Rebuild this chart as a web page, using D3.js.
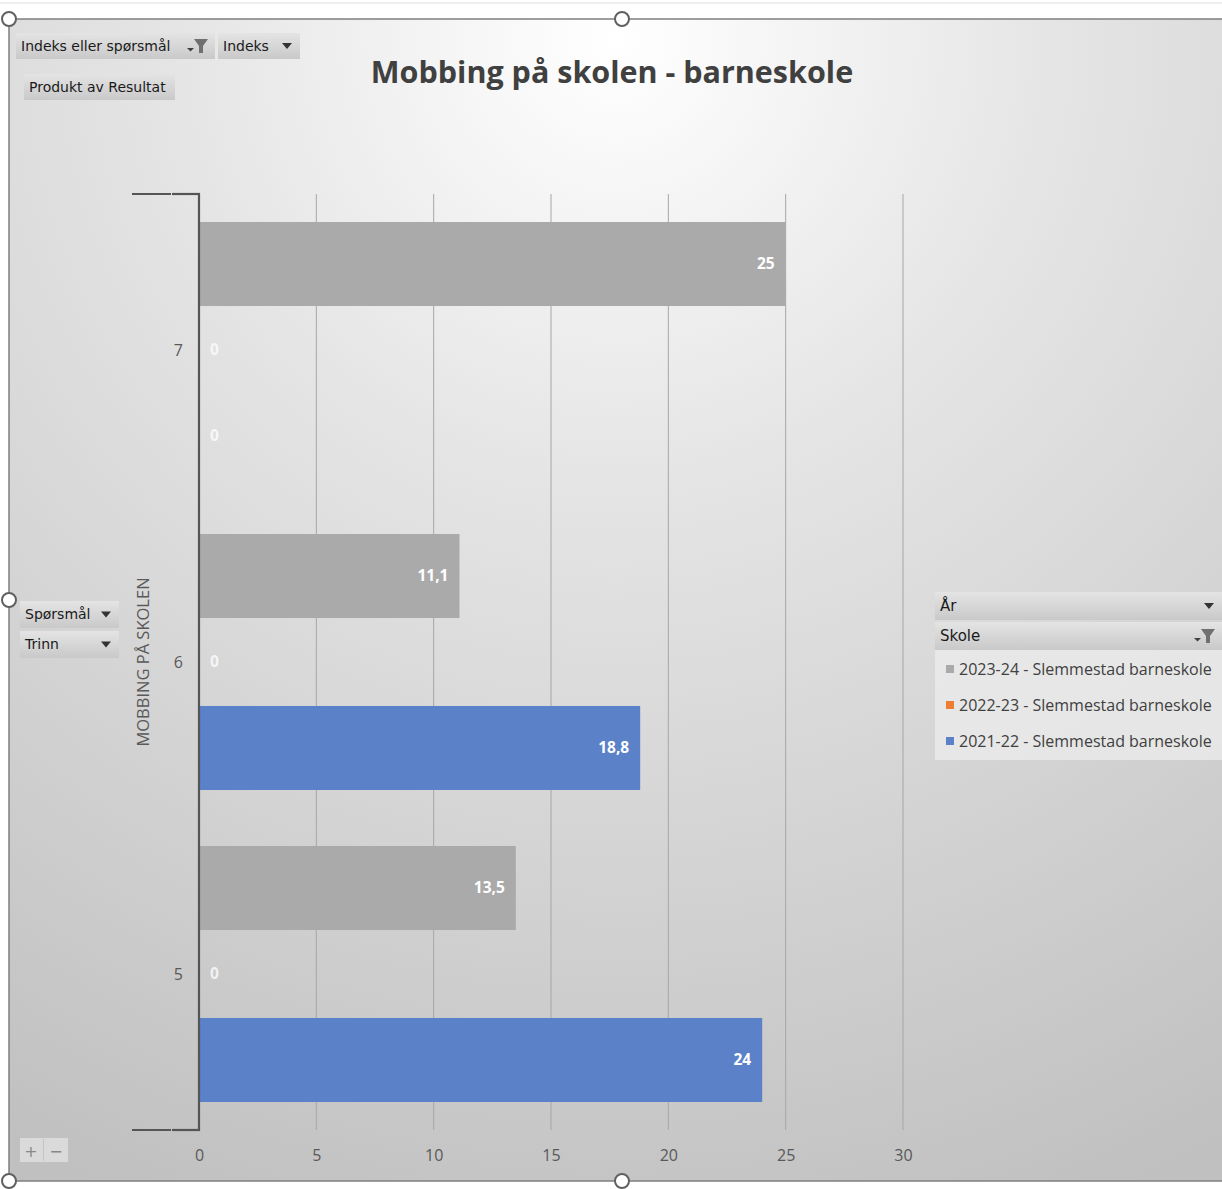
<!DOCTYPE html>
<html>
<head>
<meta charset="utf-8">
<script src="https://cdn.jsdelivr.net/npm/d3@7"></script>
<style>
  html, body { margin: 0; padding: 0; background: #ffffff; }
  svg { display: block; }
</style>
</head>
<body>
<script>
// ---- DATA ----
const categories = ["7", "6", "5"];
const seriesNames = ["2023-24 - Slemmestad barneskole", "2022-23 - Slemmestad barneskole", "2021-22 - Slemmestad barneskole"];
const seriesColors = ["#aaaaaa", "#ed7d31", "#5b81c8"];
const values2023 = [25, 11.1, 13.5];
const values2022 = [0, 0, 0];
const values2021 = [0, 18.8, 24];
const xTicks = [0, 5, 10, 15, 20, 25, 30];
const titleText = "Mobbing på skolen - barneskole";
const axisTitle = "MOBBING PÅ SKOLEN";

const W = 1222, H = 1189;
const svg = d3.select("body").append("svg").attr("width", W).attr("height", H);
const defs = svg.append("defs");

// background gradient
const rg = defs.append("radialGradient").attr("id", "bg")
  .attr("gradientUnits", "userSpaceOnUse")
  .attr("cx", 615).attr("cy", 40).attr("r", 1250);
rg.append("stop").attr("offset", "0").attr("stop-color", "#ffffff");
rg.append("stop").attr("offset", "0.35").attr("stop-color", "#e5e5e5");
rg.append("stop").attr("offset", "1").attr("stop-color", "#c0c0c0");

const bg2 = defs.append("linearGradient").attr("id", "btn").attr("x1", 0).attr("y1", 0).attr("x2", 0).attr("y2", 1);
bg2.append("stop").attr("offset", "0").attr("stop-color", "#e4e4e4");
bg2.append("stop").attr("offset", "1").attr("stop-color", "#c9c9c9");

// top line
svg.append("line").attr("x1", 0).attr("x2", W).attr("y1", 3).attr("y2", 3).attr("stroke", "#e0e0e0").attr("stroke-width", 1);

// chart area
svg.append("rect").attr("x", 9).attr("y", 19).attr("width", W).attr("height", 1162).attr("fill", "url(#bg)");
svg.append("path").attr("d", `M${W},19 H9 V1181 H${W}`).attr("fill", "none").attr("stroke", "#7f7f7f").attr("stroke-width", 1.5);

// scales
const x = d3.scaleLinear().domain([0, 30]).range([199, 903]);
const y0 = d3.scaleBand().domain(categories).range([194, 1130]);
const y1 = d3.scaleBand().domain(seriesNames).range([0, y0.bandwidth()]).paddingInner(0.023).paddingOuter(0.3256);

// gridlines
svg.append("g").selectAll("line").data(xTicks.slice(1)).join("line")
  .attr("x1", d => x(d)).attr("x2", d => x(d)).attr("y1", 194).attr("y2", 1130)
  .attr("stroke", "#a6a6a6").attr("stroke-width", 1);

// bars
const allSeries = [values2023, values2022, values2021];
const barData = [];
categories.forEach((c, i) => {
  seriesNames.forEach((s, j) => {
    barData.push({ cat: c, series: s, value: allSeries[j][i], color: seriesColors[j] });
  });
});
const bars = svg.append("g");
bars.selectAll("rect").data(barData).join("rect")
  .attr("x", x(0))
  .attr("y", d => y0(d.cat) + y1(d.series))
  .attr("width", d => x(d.value) - x(0))
  .attr("height", y1.bandwidth())
  .attr("fill", d => d.color);

// data labels
const fmt = v => String(v).replace(".", ",");
bars.selectAll("text").data(barData).join("text")
  .attr("x", d => d.value > 0 ? x(d.value) - 11 : x(0) + 11)
  .attr("y", d => y0(d.cat) + y1(d.series) + y1.bandwidth() / 2)
  .attr("dy", "0.35em")
  .attr("text-anchor", d => d.value > 0 ? "end" : "start")
  .attr("font-family", "Open Sans, sans-serif")
  .attr("font-weight", "bold")
  .attr("font-size", 15.5)
  .attr("fill", "#ffffff")
  .attr("fill-opacity", d => d.value > 0 ? 1 : 0.75)
  .text(d => fmt(d.value));

// x axis labels
const xAxis = d3.axisBottom(x).tickValues(xTicks).tickSize(0).tickPadding(0);
const gx = svg.append("g").attr("transform", "translate(0,1130)").call(xAxis);
gx.select(".domain").remove();
gx.selectAll("text").attr("y", 25).attr("dy", "0.35em")
  .attr("font-family", "Open Sans, sans-serif").attr("font-size", 16).attr("fill", "#595959");

// y axis
const yAxis = d3.axisLeft(y0).tickSize(0).tickPadding(0);
const gy = svg.append("g").attr("transform", "translate(199,0)").call(yAxis);
gy.select(".domain").remove();
gy.selectAll("text").attr("x", -16).attr("dy", "0.35em")
  .attr("font-family", "Open Sans, sans-serif").attr("font-size", 16).attr("fill", "#595959");
svg.append("line").attr("x1", 199).attr("x2", 199).attr("y1", 193).attr("y2", 1131).attr("stroke", "#555555").attr("stroke-width", 2.2);
[[194], [1130]].forEach(([yy]) => {
  svg.append("line").attr("x1", 132).attr("x2", 171).attr("y1", yy).attr("y2", yy).attr("stroke", "#555555").attr("stroke-width", 2.2);
  svg.append("line").attr("x1", 172).attr("x2", 200).attr("y1", yy).attr("y2", yy).attr("stroke", "#555555").attr("stroke-width", 2.2);
});
svg.append("text").attr("transform", "translate(149,662) rotate(-90)")
  .attr("text-anchor", "middle")
  .attr("font-family", "Open Sans, sans-serif").attr("font-size", 16.5).attr("fill", "#595959")
  .text(axisTitle);

// title
svg.append("text").attr("x", 612).attr("y", 83).attr("text-anchor", "middle")
  .attr("font-family", "Open Sans, sans-serif").attr("font-weight", "bold").attr("font-size", 30.5)
  .attr("fill", "#404040").text(titleText);

// buttons
function funnel(g, fx, fy) {
  g.append("path").attr("d", `M${fx - 7},${fy - 7} H${fx + 7} L${fx + 2},${fy} V${fy + 7} H${fx - 2} V${fy} Z`).attr("fill", "#707070");
  g.append("path").attr("d", `M${fx - 14},${fy + 2} h7 l-3.5,3.5 Z`).attr("fill", "#404040");
}
function arrow(g, ax, ay) {
  g.append("path").attr("d", `M${ax - 5},${ay - 3} h10 l-5,6 Z`).attr("fill", "#333333");
}
function button(bx, by, bw, bh, label, kind, fs) {
  const g = svg.append("g");
  g.append("rect").attr("x", bx).attr("y", by).attr("width", bw).attr("height", bh).attr("fill", "url(#btn)");
  g.append("text").attr("x", bx + 5).attr("y", by + bh / 2).attr("dy", "0.35em")
    .attr("font-family", "DejaVu Sans, sans-serif").attr("font-size", fs || 14).attr("fill", "#1a1a1a")
    .text(label);
  if (kind === "arrow") arrow(g, bx + bw - 13, by + bh / 2);
  if (kind === "funnel") funnel(g, bx + bw - 14, by + bh / 2);
  return g;
}
button(16, 33, 199, 26, "Indeks eller spørsmål", "funnel");
button(218, 33, 82, 26, "Indeks", "arrow");
button(24, 74, 151, 26, "Produkt av Resultat", null);
button(20, 601, 99, 27, "Spørsmål", "arrow");
button(20, 631, 99, 27, "Trinn", "arrow");

// legend
svg.append("rect").attr("x", 935).attr("y", 650).attr("width", 287).attr("height", 110).attr("fill", "#ebebeb").attr("opacity", 0.8);
button(935, 592, 287, 28, "År", "arrow", 15);
button(935, 622, 287, 28, "Skole", "funnel", 15);
const leg = svg.append("g");
seriesNames.forEach((s, j) => {
  const ly = 669 + j * 36;
  leg.append("rect").attr("x", 946).attr("y", ly - 4).attr("width", 8).attr("height", 8).attr("fill", seriesColors[j]);
  leg.append("text").attr("x", 959).attr("y", ly).attr("dy", "0.35em")
    .attr("font-family", "Open Sans, sans-serif").attr("font-size", 16).attr("fill", "#404040").text(s);
});

// +/- buttons
const pm = svg.append("g");
pm.append("rect").attr("x", 20).attr("y", 1138).attr("width", 48).attr("height", 24).attr("fill", "#dadada");
pm.append("line").attr("x1", 43.5).attr("x2", 43.5).attr("y1", 1139).attr("y2", 1161).attr("stroke", "#c4c4c4");
pm.append("text").attr("x", 31).attr("y", 1151).attr("dy", "0.35em").attr("text-anchor", "middle")
  .attr("font-family", "DejaVu Sans, sans-serif").attr("font-size", 16).attr("fill", "#888").text("+");
pm.append("text").attr("x", 56).attr("y", 1151).attr("dy", "0.35em").attr("text-anchor", "middle")
  .attr("font-family", "DejaVu Sans, sans-serif").attr("font-size", 16).attr("fill", "#888").text("−");

// handles
[[9, 19], [622, 19], [9, 600], [9, 1181], [622, 1181]].forEach(([hx, hy]) => {
  svg.append("circle").attr("cx", hx).attr("cy", hy).attr("r", 7).attr("fill", "#ffffff").attr("stroke", "#606060").attr("stroke-width", 2);
});
</script>
</body>
</html>
